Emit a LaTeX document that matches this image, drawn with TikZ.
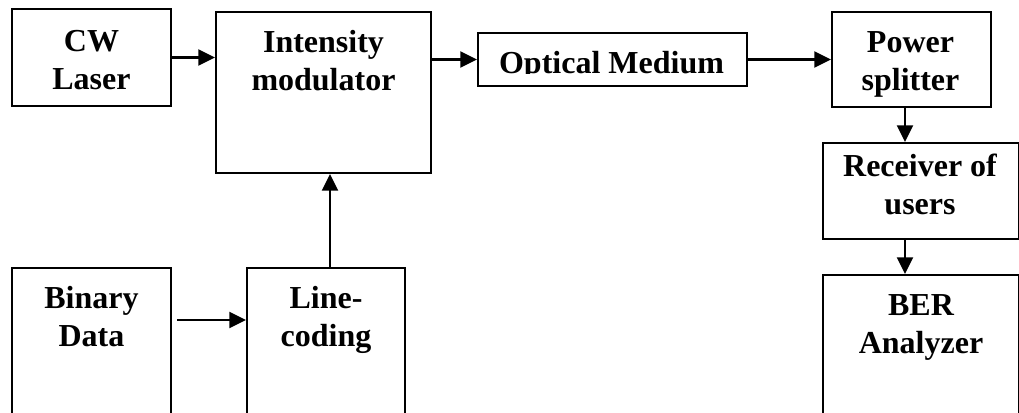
\documentclass[tikz,border=0pt]{standalone}
\usepackage{fontspec}
\setmainfont{Liberation Serif}
\usetikzlibrary{arrows.meta}

\begin{document}
\begin{tikzpicture}[x=0.75pt,y=-0.75pt]

    \tikzset{
      block/.style={
        draw,
        line width=1.6pt,
        rectangle,
        inner sep=0pt,
      },
      caption/.style={
        font=\bfseries\fontsize{24}{28.5}\selectfont,
        align=center,
        anchor=base,
        inner sep=0pt,
      },
      arr/.style={
        line width=1.6pt,
        -{Triangle[length=12.5pt,width=12pt]},
      },
    }
    \clip (0,0) rectangle (1019,412);

	% blocks
	\node[block, minimum width=159*0.75pt, minimum height=97*0.75pt] (cw) at (91.5,57.5) {};
	\node[block, minimum width=215*0.75pt, minimum height=161*0.75pt] (mod) at (323.5,92.5) {};
	\node[block, minimum width=269*0.75pt, minimum height=53*0.75pt] (opt) at (612.5,59.5) {};
	\node[block, minimum width=159*0.75pt, minimum height=95*0.75pt] (split) at (911.5,59.5) {};
	\node[block, minimum width=196*0.75pt, minimum height=96*0.75pt] (recv) at (921,191) {};
	\node[block, minimum width=196*0.75pt, minimum height=155*0.75pt] (ber) at (921,352.5) {};
	\node[block, minimum width=159*0.75pt, minimum height=162*0.75pt] (bin) at (91.5,349) {};
	\node[block, minimum width=158*0.75pt, minimum height=162*0.75pt] (line) at (326,349) {};

	% texts (base = last line)
	\node[caption] (cwtext) at (91.5,89) {CW\\Laser};
	\node[caption] (modtext) at (323.5,90) {Intensity\\modulator};
	\node[caption] (splittext) at (910.5,90) {Power\\splitter};
	\node[caption] (recvtext) at (920,214) {Receiver of\\users};
	\node[caption] (bertext) at (921,353) {BER\\Analyzer};
	\node[caption] (bintext) at (91.5,346) {Binary\\Data};
	\node[caption] (linetext) at (326,346) {Line-\\coding};
	\begin{scope}
	  \clip (478,33) rectangle (747,73.5);
	  \node[caption] (opttext) at (611.5,73) {Optical Medium};
	\end{scope}

	% links
	\draw[arr] (cw.east) -- (cw.east -| mod.west);
	\draw[arr] (mod.east |- opt.west) -- (opt.west);
	\draw[arr] (opt.east) -- (split.west);
	\draw[arr] ([xshift=-4.9pt]split.south) -- ([xshift=-4.9pt]split.south |- recv.north);
	\draw[arr] ([xshift=-12pt]recv.south) -- ([xshift=-12pt]recv.south |- ber.north);
	\draw[arr] ([shift={(3.75pt,21.75pt)}]bin.east) -- ([yshift=21.75pt]line.west);
	\draw[arr] ([xshift=3pt]line.north) -- ([xshift=3pt]line.north |- mod.south);

\end{tikzpicture}
\end{document}
